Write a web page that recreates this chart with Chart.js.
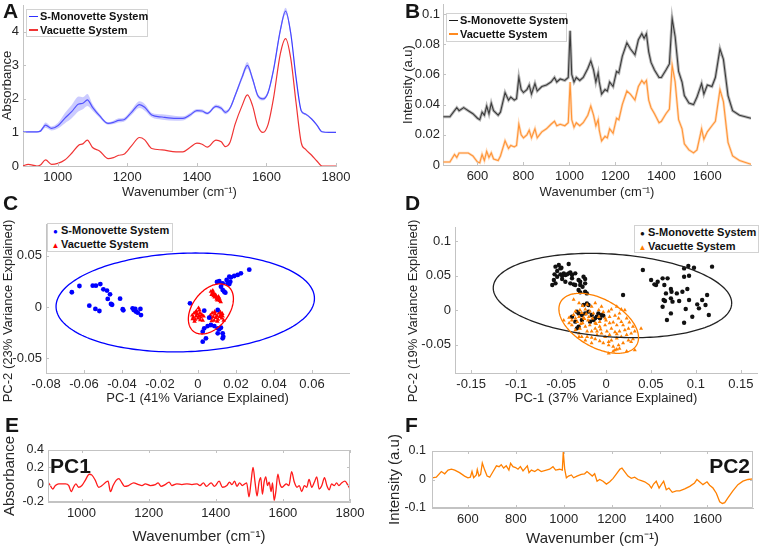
<!DOCTYPE html>
<html>
<head>
<meta charset="utf-8">
<script src="https://cdn.jsdelivr.net/npm/chart.js@4.4.0/dist/chart.umd.min.js"></script>
<style>
body { margin: 0; background: #fff; width: 761px; height: 548px; overflow: hidden; position: relative;
       font-family: "Liberation Sans", Arial, Helvetica, sans-serif; }
.pane { position: absolute; }
.tag { position: absolute; font-weight: bold; font-size: 21px; line-height: 21px; color: #151515; z-index: 2; }
.ytitle { position: absolute; width: 220px; height: 16px; line-height: 16px; font-size: 13px; color: #262626;
          text-align: center; transform: rotate(-90deg); white-space: nowrap; z-index: 2; }
.legend { position: absolute; z-index: 2; background: #fff; border: 1px solid #d2d2d2; font-weight: bold;
          font-size: 11px; color: #111; padding: 0 2px; box-sizing: border-box; }
.legend .row { height: 13.5px; line-height: 13.5px; white-space: nowrap; }
.legend .sw { display: inline-block; width: 9px; height: 1.6px; vertical-align: middle; margin-right: 2px; margin-top: -1px; }
.legend .mk { display: inline-block; width: 11px; font-size: 8px; text-align: center; }
</style>
</head>
<body>

<div class="tag" style="left:3px;top:0px">A</div>
<div class="tag" style="left:405px;top:0px">B</div>
<div class="tag" style="left:3px;top:192px">C</div>
<div class="tag" style="left:405px;top:192px">D</div>
<div class="tag" style="left:5px;top:414px">E</div>
<div class="tag" style="left:405px;top:414px">F</div>
<div class="tag" style="left:50px;top:455px">PC1</div>
<div class="tag" style="right:11px;top:455px">PC2</div>

<div class="ytitle" style="left:-102px;top:303px">PC-2 (23% Variance Explained)</div>
<div class="ytitle" style="left:303px;top:303px">PC-2 (19% Variance Explained)</div>

<div class="legend" style="left:26px;top:9px;width:122px;height:28px">
  <div class="row"><span class="sw" style="background:#2f2fff"></span>S-Monovette System</div>
  <div class="row"><span class="sw" style="background:#f03434"></span>Vacuette System</div>
</div>
<div class="legend" style="left:446px;top:13px;width:121px;height:29px">
  <div class="row"><span class="sw" style="background:#1a1a1a"></span>S-Monovette System</div>
  <div class="row"><span class="sw" style="background:#ff8a1f"></span>Vacuette System</div>
</div>
<div class="legend" style="left:47px;top:223px;width:126px;height:29px">
  <div class="row"><span class="mk" style="color:#0000ff">●</span>S-Monovette System</div>
  <div class="row"><span class="mk" style="color:#ff0000">▲</span>Vacuette System</div>
</div>
<div class="legend" style="left:634px;top:225px;width:125px;height:28px">
  <div class="row"><span class="mk" style="color:#111">●</span>S-Monovette System</div>
  <div class="row"><span class="mk" style="color:#ff8000">▲</span>Vacuette System</div>
</div>

<div class="pane" style="left:0;top:0"><canvas id="cA" width="350" height="200"></canvas></div>
<div class="pane" style="left:380px;top:0"><canvas id="cB" width="381" height="200"></canvas></div>
<div class="pane" style="left:0;top:200px"><canvas id="cC" width="360" height="206"></canvas></div>
<div class="pane" style="left:380px;top:200px"><canvas id="cD" width="381" height="206"></canvas></div>
<div class="pane" style="left:0;top:420px"><canvas id="cE" width="365" height="128"></canvas></div>
<div class="pane" style="left:380px;top:420px"><canvas id="cF" width="381" height="128"></canvas></div>

<script>
// ---- A: FTIR mean spectra ----
const wnA = [900,915,940,950,965,982,1000,1020,1040,1060,1072,1085,1100,1120,1145,1160,1175,1190,1212,1235,
             1250,1270,1300,1340,1360,1380,1400,1415,1430,1455,1470,1482,1495,1510,1530,1545,1560,1575,1590,1605,
             1620,1640,1655,1670,1685,1700,1712,1730,1745,1760,1780,1800];
const absSM = [1.01,1.02,1.02,1.04,1.22,1.12,1.20,1.42,1.62,1.85,1.87,1.97,1.75,1.50,1.27,1.30,1.36,1.38,1.60,1.83,
               1.75,1.52,1.46,1.42,1.42,1.52,1.65,1.64,1.57,1.78,1.72,1.60,1.72,2.10,2.65,3.00,2.60,2.10,2.00,2.20,
               2.85,4.05,4.62,3.95,2.64,1.65,1.55,1.40,1.22,1.02,1.00,1.00];
const absVac = [0.00,0.05,0.00,0.03,0.18,0.05,0.08,0.18,0.38,0.62,0.66,0.77,0.55,0.45,0.22,0.25,0.32,0.35,0.60,0.85,
                0.78,0.52,0.48,0.42,0.42,0.55,0.68,0.65,0.56,0.77,0.72,0.58,0.70,1.25,1.80,2.12,1.80,1.20,1.00,1.25,
                2.00,3.35,3.80,3.20,1.90,0.70,0.50,0.32,0.15,0.00,0.00,0.00];
const bandA = [0.02,0.02,0.02,0.03,0.08,0.06,0.08,0.15,0.20,0.22,0.18,0.18,0.10,0.06,0.04,0.05,0.06,0.06,0.08,0.10,
               0.10,0.07,0.08,0.07,0.06,0.06,0.05,0.05,0.04,0.05,0.06,0.06,0.05,0.06,0.08,0.10,0.07,0.06,0.05,0.05,
               0.06,0.08,0.10,0.06,0.04,0.03,0.03,0.02,0.02,0.02,0.01,0.01];

// ---- B: Raman mean spectra ----
const wnB = [452,480,500,510,520,540,560,580,600,610,620,630,640,650,660,670,690,700,720,735,
             745,760,770,780,790,800,815,825,835,850,860,880,900,920,935,945,960,980,995,1003,
             1010,1020,1030,1045,1060,1080,1093,1105,1115,1125,1130,1140,1155,1165,1175,1190,1205,1215,1230,1250,
             1265,1285,1300,1315,1325,1335,1345,1355,1370,1390,1400,1420,1435,1447,1460,1475,1490,1500,1520,1540,
             1555,1575,1585,1600,1620,1635,1655,1670,1690,1710,1740,1790];
const ramSM = [0.032,0.032,0.036,0.038,0.036,0.038,0.036,0.034,0.031,0.030,0.035,0.033,0.039,0.034,0.041,0.036,0.033,0.035,0.048,0.043,
               0.045,0.043,0.044,0.058,0.050,0.048,0.050,0.053,0.047,0.054,0.049,0.052,0.053,0.055,0.058,0.055,0.057,0.056,0.058,0.089,
               0.060,0.055,0.058,0.056,0.058,0.064,0.069,0.063,0.055,0.061,0.055,0.047,0.050,0.049,0.055,0.052,0.062,0.061,0.072,0.081,
               0.077,0.073,0.083,0.087,0.084,0.087,0.075,0.068,0.063,0.058,0.058,0.063,0.067,0.097,0.085,0.062,0.055,0.046,0.041,0.040,
               0.045,0.054,0.047,0.053,0.052,0.058,0.077,0.070,0.046,0.036,0.033,0.031];
const ramVac = [0.002,0.002,0.007,0.005,0.008,0.008,0.008,0.006,0.002,0.0015,0.007,0.003,0.009,0.005,0.008,0.004,0.003,0.006,0.016,0.011,
                0.013,0.012,0.013,0.027,0.020,0.018,0.020,0.023,0.018,0.024,0.018,0.022,0.024,0.027,0.029,0.026,0.027,0.026,0.028,0.055,
                0.030,0.025,0.028,0.026,0.028,0.033,0.039,0.033,0.026,0.030,0.023,0.016,0.019,0.018,0.024,0.021,0.031,0.030,0.040,0.049,
                0.047,0.043,0.052,0.056,0.054,0.056,0.043,0.038,0.034,0.028,0.029,0.034,0.037,0.066,0.055,0.030,0.024,0.014,0.010,0.008,
                0.010,0.024,0.017,0.022,0.026,0.029,0.050,0.042,0.015,0.006,0.003,0.0005];

// ---- C: FTIR PCA scores [PC-1, PC-2] ----
const scoreC_SM = [[-0.0664,0.0143],[-0.0624,0.0204],[-0.0554,0.0207],[-0.0537,0.0207],[-0.0514,0.0223],[-0.0498,0.0172],
  [-0.0479,0.0159],[-0.0463,0.0123],[-0.0475,0.0078],[-0.0458,0.0029],[-0.0452,0.0022],[-0.0410,0.0081],[-0.0572,0.0013],
  [-0.0540,-0.0019],[-0.0519,-0.0039],[-0.0396,-0.0022],[-0.0393,-0.0032],[-0.0344,-0.0013],[-0.0338,-0.0029],[-0.0330,-0.0019],
  [-0.0317,-0.0055],[-0.0303,-0.0019],[-0.0300,-0.0078],[-0.0326,-0.0045],[-0.0042,0.0036],
  [0.0270,0.0362],[0.0226,0.0327],[0.0209,0.0311],[0.0191,0.0301],[0.0174,0.0288],[0.0165,0.0294],[0.0151,0.0262],
  [0.0170,0.0246],[0.0156,0.0230],[0.0130,0.0230],[0.0112,0.0250],[0.0100,0.0243],[0.0121,0.0197],[0.0130,0.0165],
  [0.0138,0.0149],[0.0144,0.0139],[0.0165,0.0223],[0.0059,-0.0104],[0.0051,-0.0185],[0.0033,-0.0207],[0.0025,-0.0240],
  [0.0042,-0.0304],[0.0025,-0.0337],[0.0068,-0.0175],[0.0086,-0.0185],[0.0104,-0.0207],[0.0112,-0.0217],[0.0121,-0.0201],
  [0.0104,-0.0256],[0.0130,-0.0256],[0.0133,-0.0288],[0.0130,-0.0304],[0.0104,-0.0029],[0.0033,-0.0036]];
const scoreC_Vac = [[0.0068,0.0150],[0.0075,0.0135],[0.0080,0.0140],[0.0085,0.0125],[0.0072,0.0120],[0.0090,0.0110],
  [0.0095,0.0100],[0.0100,0.0090],[0.0088,0.0095],[0.0105,0.0080],[0.0110,0.0070],[0.0115,0.0060],[0.0098,0.0075],
  [0.0108,0.0100],[0.0082,0.0108],[0.0120,0.0050],[0.0093,0.0118],[0.0078,0.0160],[0.0102,0.0065],[0.0113,0.0082],
  [-0.0030,-0.0080],[-0.0025,-0.0100],[-0.0020,-0.0060],[-0.0015,-0.0120],[-0.0010,-0.0090],[-0.0005,-0.0070],
  [0.0000,-0.0110],[0.0005,-0.0085],[0.0010,-0.0060],[0.0015,-0.0100],[0.0020,-0.0075],[0.0025,-0.0130],[-0.0018,-0.0140],
  [0.0008,-0.0030],[0.0003,-0.0010],[-0.0008,-0.0040],[0.0030,-0.0090],[-0.0028,-0.0115],[0.0012,-0.0125],[-0.0012,-0.0050],
  [0.0065,-0.0080],[0.0070,-0.0110],[0.0075,-0.0060],[0.0080,-0.0095],[0.0085,-0.0130],[0.0090,-0.0070],[0.0095,-0.0105],
  [0.0100,-0.0085],[0.0105,-0.0120],[0.0110,-0.0060],[0.0115,-0.0095],[0.0120,-0.0075],[0.0125,-0.0110],[0.0130,-0.0090],
  [0.0135,-0.0130],[0.0088,-0.0045],[0.0102,-0.0140],[0.0118,-0.0050],[0.0072,-0.0135],[0.0128,-0.0065]];
// confidence ellipses: centre x, centre y, half-diameter u (x, y), conjugate half-diameter v (x, y)
const ellC_SM = [-0.0067, 0.0044, 0.0680, 0.0046, 0.0010, -0.0478];
const ellC_Vac = [0.0068, -0.0019, 0.0091, 0.0218, 0.0076, -0.0108];

// ---- D: Raman PCA scores ----
const scoreD_SM = [[-0.0598,0.0362],[-0.0562,0.0386],[-0.0580,0.0434],[-0.0543,0.0483],[-0.0562,0.0628],[-0.0525,0.0652],
  [-0.0496,0.0613],[-0.0543,0.0565],[-0.0572,0.0517],[-0.0507,0.0517],[-0.0488,0.0497],[-0.0470,0.0531],[-0.0452,0.0507],
  [-0.0433,0.0517],[-0.0415,0.0531],[-0.0397,0.0546],[-0.0378,0.0507],[-0.0488,0.0449],[-0.0452,0.0410],[-0.0397,0.0386],
  [-0.0360,0.0372],[-0.0342,0.0362],[-0.0305,0.0434],[-0.0287,0.0410],[-0.0287,0.0362],[-0.0250,0.0483],[-0.0232,0.0449],
  [-0.0261,0.0338],[-0.0232,0.0265],[-0.0305,0.0290],[-0.0287,0.0256],[-0.0213,0.0241],[-0.0415,0.0666],[-0.0507,0.0603],
  [-0.0342,0.0531],[-0.0378,0.0459],[-0.0232,0.0386],
  [-0.0323,-0.0024],[-0.0305,-0.0049],[-0.0268,-0.0073],[-0.0232,-0.0049],[-0.0195,-0.0024],[-0.0158,-0.0073],[-0.0103,-0.0097],
  [-0.0085,-0.0049],[-0.0067,-0.0121],[-0.0048,-0.0073],[-0.0030,-0.0082],[-0.0305,-0.0242],[-0.0323,-0.0266],[-0.0268,-0.0145],
  [-0.0213,0.0096],[-0.0250,0.0072],[-0.0195,0.0072],[-0.0378,-0.0097],[-0.0342,-0.0169],[-0.0177,-0.0169],[-0.0140,-0.0145],
  [-0.0122,-0.0121],[0.0190,0.0217],
  [0.0410,0.0579],[0.0502,0.0434],[0.0575,0.0410],[0.0557,0.0362],[0.0539,0.0372],[0.0630,0.0459],[0.0649,0.0362],
  [0.0667,0.0241],[0.0641,0.0145],[0.0630,0.0048],[0.0656,0.0130],[0.0685,0.0459],[0.0722,0.0304],[0.0729,0.0265],
  [0.0722,0.0169],[0.0740,0.0121],[0.0678,-0.0145],[0.0722,-0.0049],[0.0788,0.0241],[0.0850,0.0265],[0.0814,0.0130],
  [0.0869,0.0603],[0.0916,0.0637],[0.0869,0.0483],[0.0924,0.0497],[0.0979,0.0613],[0.0905,0.0304],[0.0924,0.0145],
  [0.0887,0.0014],[0.0960,-0.0097],[0.0869,-0.0184],[0.1070,0.0145],[0.1015,0.0082],[0.1034,0.0024],[0.1125,0.0217],
  [0.1144,-0.0073],[0.1180,0.0628],[0.1107,0.0072]];
const scoreD_Vac = [[-0.047,-0.015],[-0.036,0.015],[-0.030,0.010],[-0.026,0.006],[-0.021,0.008],[-0.012,0.010],[-0.016,0.005],
  [-0.023,0.001],[-0.029,0.000],[-0.034,-0.002],[-0.036,-0.007],[-0.030,-0.010],[-0.025,-0.011],[-0.019,-0.010],[-0.014,-0.005],
  [-0.008,0.000],[-0.003,-0.003],[0.003,-0.002],[0.006,0.001],[0.012,0.005],[0.017,0.001],[0.021,0.000],[0.015,-0.005],
  [0.010,-0.008],[0.004,-0.010],[-0.001,-0.012],[-0.007,-0.017],[-0.012,-0.019],[-0.018,-0.022],[-0.023,-0.024],[-0.029,-0.027],
  [-0.034,-0.029],[-0.038,-0.022],[-0.041,-0.019],[-0.030,-0.039],[-0.027,-0.039],[-0.021,-0.039],[-0.016,-0.040],[-0.010,-0.036],
  [-0.005,-0.034],[0.001,-0.031],[0.006,-0.027],[0.012,-0.022],[0.017,-0.017],[0.023,-0.012],[0.026,-0.018],[0.030,-0.024],
  [0.032,-0.031],[0.039,-0.027],[0.028,-0.034],[0.023,-0.036],[0.017,-0.039],[0.012,-0.041],[0.006,-0.044],[0.003,-0.046],
  [-0.003,-0.048],[-0.007,-0.045],[-0.012,-0.042],[0.003,-0.051],[0.008,-0.053],[0.014,-0.051],[0.019,-0.048],[0.025,-0.044],
  [0.030,-0.042],[0.010,-0.058],[0.012,-0.057],[0.015,-0.056],[0.032,-0.058],[-0.001,-0.039],[0.004,-0.036],[0.010,-0.032],
  [0.015,-0.031],[0.021,-0.029],[-0.012,-0.027],[-0.007,-0.024],[-0.001,-0.022],[0.004,-0.019],[-0.016,-0.031],[-0.021,-0.031],
  [-0.026,-0.019],[-0.032,-0.017],[-0.038,-0.015],[-0.041,-0.011],[-0.034,-0.012],[-0.008,-0.010],[-0.005,0.005],[-0.010,-0.031],
  [0.014,-0.012],[0.019,-0.022],[0.025,-0.027],[-0.016,-0.048],[-0.023,-0.044],[-0.030,-0.034],[0.028,-0.046],[0.003,-0.063],
  [0.008,-0.060],[0.023,-0.060],[-0.027,-0.004],[-0.022,-0.006],[-0.018,-0.002],[-0.024,-0.013],[-0.020,-0.015],[-0.028,-0.020],
  [-0.015,-0.012],[-0.011,-0.020],[-0.006,-0.028],[0.000,-0.015],[0.008,-0.018],[0.012,-0.035]];
const ellD_SM = [0.0072, 0.0210, 0.1326, -0.0124, -0.0032, -0.0598];
const ellD_Vac = [-0.0081, -0.0193, 0.0424, -0.0309, -0.0128, -0.0306];

// ---- E: FTIR PC1 loading ----
const wnE = [900,907,914,922,932,952,962,969,976,983,991,1001,1011,1023,1031,1041,1051,1061,1073,1079,
             1086,1094,1103,1111,1119,1128,1140,1155,1170,1180,1190,1205,1220,1228,1237,1249,1261,1269,1284,1299,
             1314,1329,1344,1353,1363,1372,1386,1396,1410,1420,1433,1441,1448,1456,1463,1471,1479,1487,1492,1499,
             1505,1511,1517,1523,1529,1534,1539,1544,1549,1554,1559,1565,1569,1574,1579,1585,1591,1597,1604,1610,
             1618,1626,1634,1642,1649,1656,1664,1671,1678,1686,1694,1701,1708,1716,1724,1731,1738,1745,1753,1760,
             1767,1775,1785,1793,1800];
const pc1 = [0.03,-0.01,-0.05,-0.01,0.01,0.01,-0.01,-0.08,-0.03,0.01,-0.03,-0.01,0.05,0.12,0.11,0.05,-0.03,-0.01,0.03,0.04,
             -0.08,-0.01,0.05,0.07,0.03,-0.02,-0.01,0.02,0.00,-0.01,0.01,-0.01,0.00,0.02,-0.02,0.00,0.03,-0.01,0.01,0.00,
             0.01,0.00,0.01,-0.01,0.02,-0.02,0.02,-0.02,0.04,-0.03,-0.01,0.03,0.00,0.04,-0.02,0.02,-0.01,0.01,0.02,-0.14,
             0.03,0.20,0.03,-0.13,0.03,0.08,-0.11,0.03,0.09,-0.01,0.03,-0.08,0.02,-0.18,-0.08,0.12,0.01,-0.03,-0.01,0.01,
             -0.01,0.15,0.03,-0.03,-0.01,-0.08,-0.01,-0.03,0.06,-0.03,0.03,0.09,-0.05,-0.01,0.08,-0.01,-0.06,0.01,-0.01,0.02,
             -0.01,0.02,0.04,0.00,-0.05];

// ---- F: Raman PC2 loading ----
const wnF = [450,468,489,503,517,531,545,565,586,600,610,617,624,635,639,646,653,660,670,680,
             691,705,719,730,739,749,760,771,778,788,799,809,819,830,840,848,855,865,879,892,
             906,927,941,955,966,983,994,998,1004,1011,1020,1032,1041,1055,1073,1087,1097,1108,1119,1129,
             1139,1150,1164,1178,1192,1206,1220,1234,1243,1254,1268,1282,1296,1310,1324,1338,1356,1366,1375,1386,
             1398,1407,1417,1428,1439,1453,1470,1484,1505,1526,1546,1556,1567,1581,1598,1609,1623,1637,1651,1662,
             1672,1686,1706,1727,1748,1769,1790];
const pc2 = [0.006,0.008,0.028,0.020,0.033,0.036,0.033,0.024,0.012,0.006,0.008,0.028,0.006,0.016,0.035,0.012,0.018,0.058,0.033,0.012,
             0.008,0.028,0.048,0.045,0.052,0.040,0.048,0.033,0.057,0.045,0.042,0.036,0.045,0.030,0.040,0.048,0.024,0.033,0.028,0.036,
             0.028,0.033,0.036,0.045,0.033,0.036,0.033,0.096,0.036,0.006,0.012,0.016,0.006,0.012,0.018,0.020,0.028,0.020,0.012,0.020,
             -0.006,0.000,-0.006,-0.016,-0.008,0.004,0.020,0.036,0.040,0.028,0.012,0.004,0.008,0.000,-0.004,-0.008,-0.018,-0.030,-0.016,-0.006,
             -0.030,-0.018,-0.006,-0.036,-0.030,-0.045,-0.040,-0.040,-0.033,-0.024,-0.012,0.000,-0.008,-0.018,-0.008,-0.020,-0.030,-0.048,-0.078,-0.084,
             -0.081,-0.064,-0.040,-0.018,-0.006,0.000,0.002];

Chart.defaults.font.family = '"Liberation Sans", Arial, Helvetica, sans-serif';
Chart.defaults.color = '#262626';
Chart.defaults.animation = false;

const AXIS = '#c3c3c3';

// force axis thickness so the plot boxes land where the figure has them
function fitTo(px, horizontal) {
    return function (s) {
        if (horizontal) s.height = px; else s.width = px;
        s.paddingLeft = s.paddingRight = s.paddingTop = s.paddingBottom = 0;
    };
}

function axis(min, max, step, label, size, horizontal, o) {
    o = o || {};
    return {
        type: 'linear', min: min, max: max,
        grid: { display: false, drawTicks: false },
        border: { color: AXIS, width: 1 },
        ticks: {
            stepSize: step, includeBounds: false, autoSkip: false, maxRotation: 0,
            padding: o.pad || 4, font: { size: o.tick || 13 }, color: '#262626',
            callback: v => String(Math.round(v * 10000) / 10000)
        },
        title: { display: label !== '', text: label, font: { size: o.title || 13 }, color: '#262626', padding: 0 },
        afterFit: fitTo(size, horizontal)
    };
}

// small inward tick marks, and a full box for the loading plots
function framePlugin(box) {
    return {
        id: 'frame',
        afterDraw(chart) {
            const { ctx, chartArea: a } = chart;
            const sx = chart.scales.x, sy = chart.scales.y;
            ctx.save();
            ctx.strokeStyle = AXIS;
            ctx.lineWidth = 1;
            ctx.beginPath();
            sx.ticks.forEach(t => {
                const p = Math.round(sx.getPixelForValue(t.value)) + 0.5;
                ctx.moveTo(p, a.bottom); ctx.lineTo(p, a.bottom - 3);
                if (box) { ctx.moveTo(p, a.top); ctx.lineTo(p, a.top + 3); }
            });
            sy.ticks.forEach(t => {
                const p = Math.round(sy.getPixelForValue(t.value)) + 0.5;
                ctx.moveTo(a.left, p); ctx.lineTo(a.left + 3, p);
                if (box) { ctx.moveTo(a.right, p); ctx.lineTo(a.right - 3, p); }
            });
            if (box) ctx.rect(a.left + 0.5, a.top + 0.5, a.right - a.left - 1, a.bottom - a.top - 1);
            ctx.stroke();
            ctx.restore();
        }
    };
}

// confidence ellipses drawn through the chart's own scales
function ellipsePlugin(list) {
    return {
        id: 'ellipses',
        afterDatasetsDraw(chart) {
            const { ctx, chartArea: a } = chart;
            const sx = chart.scales.x, sy = chart.scales.y;
            ctx.save();
            ctx.beginPath();
            ctx.rect(a.left, a.top, a.right - a.left, a.bottom - a.top);
            ctx.clip();
            list.forEach(e => {
                const p = e.p;
                ctx.beginPath();
                for (let k = 0; k <= 200; k++) {
                    const t = k / 200 * 2 * Math.PI;
                    const X = sx.getPixelForValue(p[0] + p[2] * Math.cos(t) + p[4] * Math.sin(t));
                    const Y = sy.getPixelForValue(p[1] + p[3] * Math.cos(t) + p[5] * Math.sin(t));
                    if (k) ctx.lineTo(X, Y); else ctx.moveTo(X, Y);
                }
                ctx.strokeStyle = e.color;
                ctx.lineWidth = 1.3;
                ctx.stroke();
            });
            ctx.restore();
        }
    };
}

function xy(xs, ys) { return xs.map((x, i) => ({ x: x, y: ys[i] })); }
function pts(arr) { return arr.map(p => ({ x: p[0], y: p[1] })); }

function line(data, color, width, smooth) {
    return {
        data: data, borderColor: color, borderWidth: width, pointRadius: 0, fill: false,
        tension: 0, cubicInterpolationMode: smooth ? 'monotone' : 'default'
    };
}

function baseOptions(padding, xs, ys) {
    return {
        responsive: false,
        animation: false,
        events: [],
        layout: { padding: padding },
        plugins: { legend: { display: false }, tooltip: { enabled: false } },
        scales: { x: xs, y: ys }
    };
}

// A
new Chart(document.getElementById('cA'), {
    type: 'line',
    data: {
        datasets: [
            { data: xy(wnA, absSM.map((v, i) => v + bandA[i])), borderWidth: 0, pointRadius: 0, fill: false, cubicInterpolationMode: 'monotone' },
            { data: xy(wnA, absSM.map((v, i) => v - bandA[i])), borderWidth: 0, pointRadius: 0, fill: '-1',
              backgroundColor: 'rgba(130,130,255,0.42)', cubicInterpolationMode: 'monotone' },
            line(xy(wnA, absSM), '#2f2fff', 1.2, true),
            line(xy(wnA, absVac), '#f03434', 1.2, true)
        ]
    },
    options: baseOptions({ left: 0, top: 5, right: 14, bottom: 0 },
        axis(900, 1800, 200, 'Wavenumber (cm⁻¹)', 34, true),
        axis(0, 4.8, 1, 'Absorbance', 23, false)),
    plugins: [framePlugin(false)]
});

// B
new Chart(document.getElementById('cB'), {
    type: 'line',
    data: {
        datasets: [
            line(xy(wnB, ramSM), 'rgba(100,100,100,0.45)', 3, false),
            line(xy(wnB, ramVac), 'rgba(255,165,90,0.4)', 2.6, false),
            line(xy(wnB, ramSM), '#1a1a1a', 1.1, false),
            line(xy(wnB, ramVac), '#ff8a1f', 1.1, false)
        ]
    },
    options: baseOptions({ left: 21, top: 4, right: 10, bottom: 0 },
        axis(450, 1790, 200, 'Wavenumber (cm⁻¹)', 35, true),
        axis(0, 0.1067, 0.02, 'Intensity (a.u)', 42, false, { pad: 3 })),
    plugins: [framePlugin(false)]
});

// C (y title is the rotated div above)
new Chart(document.getElementById('cC'), {
    type: 'scatter',
    data: {
        datasets: [
            { data: pts(scoreC_SM), pointStyle: 'circle', pointRadius: 2.4, backgroundColor: '#0000ff', borderWidth: 0 },
            { data: pts(scoreC_Vac), pointStyle: 'triangle', pointRadius: 2.6, backgroundColor: '#ff0000', borderWidth: 0 }
        ]
    },
    options: baseOptions({ left: 0, top: 24, right: 11, bottom: 0 },
        axis(-0.08, 0.0795, 0.02, 'PC-1 (41% Variance Explained)', 33, true),
        axis(-0.0641, 0.0806, 0.05, '', 46, false)),
    plugins: [framePlugin(false), ellipsePlugin([{ p: ellC_SM, color: '#0000ff' }, { p: ellC_Vac, color: '#ff0000' }])]
});

// D
new Chart(document.getElementById('cD'), {
    type: 'scatter',
    data: {
        datasets: [
            { data: pts(scoreD_Vac), pointStyle: 'triangle', pointRadius: 2.3, backgroundColor: '#ff8000', borderWidth: 0 },
            { data: pts(scoreD_SM), pointStyle: 'circle', pointRadius: 2.2, backgroundColor: '#111111', borderWidth: 0 }
        ]
    },
    options: baseOptions({ left: 25, top: 27, right: 0, bottom: 0 },
        axis(-0.168, 0.168, 0.05, 'PC-1 (37% Variance Explained)', 33, true),
        axis(-0.0913, 0.1203, 0.05, '', 50, false)),
    plugins: [framePlugin(false), ellipsePlugin([{ p: ellD_SM, color: '#222222' }, { p: ellD_Vac, color: '#ff8000' }])]
});

// E
new Chart(document.getElementById('cE'), {
    type: 'line',
    data: { datasets: [line(xy(wnE, pc1), '#ff1a1a', 1.3, true)] },
    options: baseOptions({ left: 1, top: 30, right: 15, bottom: 2 },
        axis(900, 1800, 200, 'Wavenumber (cm⁻¹)', 44, true, { title: 15 }),
        axis(-0.2, 0.4, 0.2, 'Absorbance', 47, false, { title: 15, tick: 12.5 })),
    plugins: [framePlugin(true)]
});

// F
new Chart(document.getElementById('cF'), {
    type: 'line',
    data: { datasets: [line(xy(wnF, pc2), '#ff8000', 1.3, false)] },
    options: baseOptions({ left: 6, top: 31, right: 8, bottom: 0 },
        axis(450, 1790, 200, 'Wavenumber (cm⁻¹)', 40, true, { title: 15 }),
        axis(-0.1, 0.1, 0.1, 'Intensity (a.u)', 46, false, { title: 15, tick: 12.5, pad: 6 })),
    plugins: [framePlugin(true)]
});
</script>
</body>
</html>
